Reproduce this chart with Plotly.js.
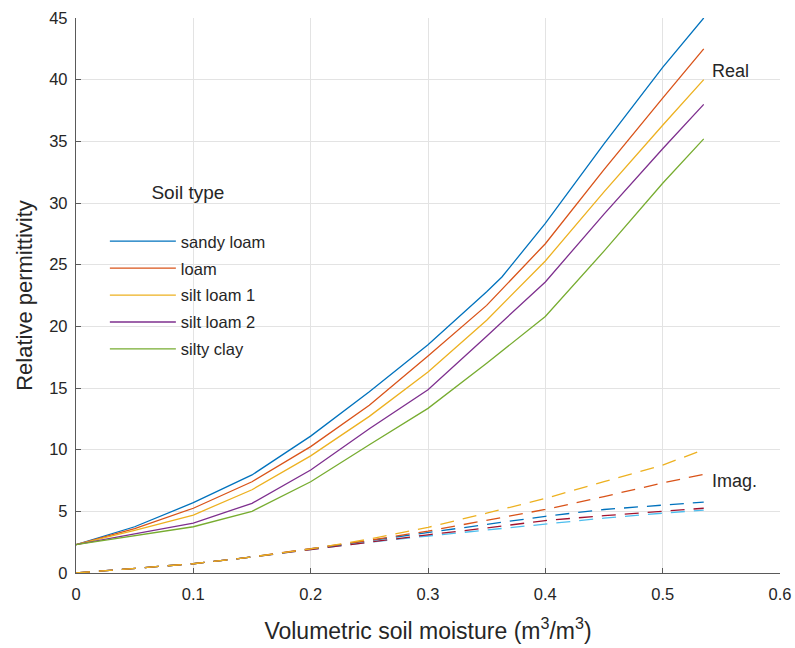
<!DOCTYPE html>
<html>
<head>
<meta charset="utf-8">
<script src="https://cdn.plot.ly/plotly-3.0.1.min.js"></script>
<style>html,body{margin:0;padding:0;background:#fff;}#chart{width:795px;height:648px;}</style>
</head>
<body>
<div id="chart"></div>
<script>
// Soil types (legend labels)
const soilTypes = ["sandy loam", "loam", "silt loam 1", "silt loam 2", "silty clay"];

// Volumetric soil moisture grid (m3/m3)
const moisture = [0, 0.05, 0.1, 0.15, 0.2, 0.25, 0.3, 0.35, 0.4, 0.45, 0.5, 0.535];
const moistureSandy = [0, 0.05, 0.1, 0.15, 0.2, 0.25, 0.3, 0.35, 0.363, 0.4, 0.45, 0.5, 0.535];

// Real part of relative permittivity
const realSandyLoam = [2.3, 3.75, 5.7, 7.95, 11.1, 14.7, 18.5, 22.8, 24.0, 28.35, 34.8, 41.0, 45.0];
const realLoam      = [2.3, 3.6, 5.25, 7.4, 10.25, 13.6, 17.6, 21.7, 26.7, 32.7, 38.5, 42.5];
const realSiltLoam1 = [2.3, 3.45, 4.7, 6.75, 9.5, 12.7, 16.3, 20.5, 25.3, 30.9, 36.3, 40.0];
const realSiltLoam2 = [2.3, 3.2, 4.05, 5.65, 8.35, 11.7, 14.85, 19.2, 23.6, 29.1, 34.4, 38.0];
const realSiltyClay = [2.3, 3.05, 3.75, 5.0, 7.4, 10.4, 13.35, 17.0, 20.8, 26.1, 31.6, 35.2];

// Imaginary part of relative permittivity
const imagSandyLoam = [0, 0.35, 0.75, 1.3, 1.9, 2.5, 3.0, 3.5, 4.0, 4.45, 4.85, 5.1];
const imagLoam      = [0, 0.35, 0.75, 1.3, 1.9, 2.55, 3.1, 3.65, 4.25, 4.65, 5.0, 5.25];
const imagSiltLoam1 = [0, 0.35, 0.75, 1.3, 1.95, 2.6, 3.25, 3.95, 4.6, 5.15, 5.5, 5.75];
const imagSiltLoam2 = [0, 0.35, 0.75, 1.3, 1.95, 2.65, 3.4, 4.3, 5.15, 6.2, 7.3, 8.0];
const imagSiltyClay = [0, 0.35, 0.75, 1.3, 1.95, 2.75, 3.7, 4.85, 6.05, 7.4, 8.75, 10.0];

const realColors = ["#0072BD", "#D95319", "#EDB120", "#7E2F8E", "#77AC30"];
const imagColors = ["#4DBEEE", "#A2142F", "#0072BD", "#D95319", "#EDB120"];

const realX = [moistureSandy, moisture, moisture, moisture, moisture];
const realY = [realSandyLoam, realLoam, realSiltLoam1, realSiltLoam2, realSiltyClay];
const imagY = [imagSandyLoam, imagLoam, imagSiltLoam1, imagSiltLoam2, imagSiltyClay];

const FONT = "Liberation Sans, Arial, Helvetica, sans-serif";
const traces = [];
soilTypes.forEach((name, i) => {
  traces.push({
    x: realX[i], y: realY[i], type: "scatter", mode: "lines", name: name,
    legendgroup: "g" + i,
    line: {color: realColors[i], width: 1.3}
  });
});
soilTypes.forEach((name, i) => {
  traces.push({
    x: moisture, y: imagY[i], type: "scatter", mode: "lines", name: name + " (imag.)",
    showlegend: false,
    line: {color: imagColors[i], width: 1.3, dash: "14px,9px"}
  });
});

const layout = {
  width: 795, height: 648,
  margin: {l: 76, r: 15, t: 18, b: 75},
  paper_bgcolor: "#ffffff", plot_bgcolor: "#ffffff",
  font: {family: FONT, color: "#262626", size: 16},
  showlegend: true,
  legend: {
    x: 0.041, y: 0.718, xanchor: "left", yanchor: "top",
    bgcolor: "rgba(0,0,0,0)", borderwidth: 0,
    font: {family: FONT, size: 16.5, color: "#262626"},
    title: {text: "Soil type<br> ", side: "top center", font: {family: FONT, size: 19, color: "#262626"}},
    tracegroupgap: 2.5,
    itemwidth: 66
  },
  xaxis: {
    range: [0, 0.6], dtick: 0.1, tick0: 0,
    showgrid: true, gridcolor: "#e3e3e3", gridwidth: 1,
    zeroline: false, showline: true, linecolor: "#5a5a5a", linewidth: 1.2,
    ticks: "inside", ticklen: 5, tickcolor: "#5a5a5a",
    ticklabelstandoff: 6,
    tickfont: {family: FONT, size: 16.5, color: "#262626"},
    title: {text: "Volumetric soil moisture (m<sup>3</sup>/m<sup>3</sup>)", font: {family: FONT, size: 23, color: "#262626"}, standoff: 20}
  },
  yaxis: {
    range: [0, 45], dtick: 5, tick0: 0,
    showgrid: true, gridcolor: "#e3e3e3", gridwidth: 1,
    zeroline: false, showline: true, linecolor: "#5a5a5a", linewidth: 1.2,
    ticks: "inside", ticklen: 5, tickcolor: "#5a5a5a",
    ticklabelstandoff: 4,
    tickfont: {family: FONT, size: 16.5, color: "#262626"},
    title: {text: "Relative permittivity", font: {family: FONT, size: 22, color: "#262626"}, standoff: 10}
  },
  annotations: [
    {x: 0.54, y: 40.7, xref: "x", yref: "y", text: "Real", showarrow: false, xanchor: "left", yanchor: "middle", font: {family: FONT, size: 18, color: "#262626"}},
    {x: 0.54, y: 7.45, xref: "x", yref: "y", text: "Imag.", showarrow: false, xanchor: "left", yanchor: "middle", font: {family: FONT, size: 18, color: "#262626"}}
  ]
};

Plotly.newPlot("chart", traces, layout, {displayModeBar: false, staticPlot: true});
</script>
</body>
</html>
